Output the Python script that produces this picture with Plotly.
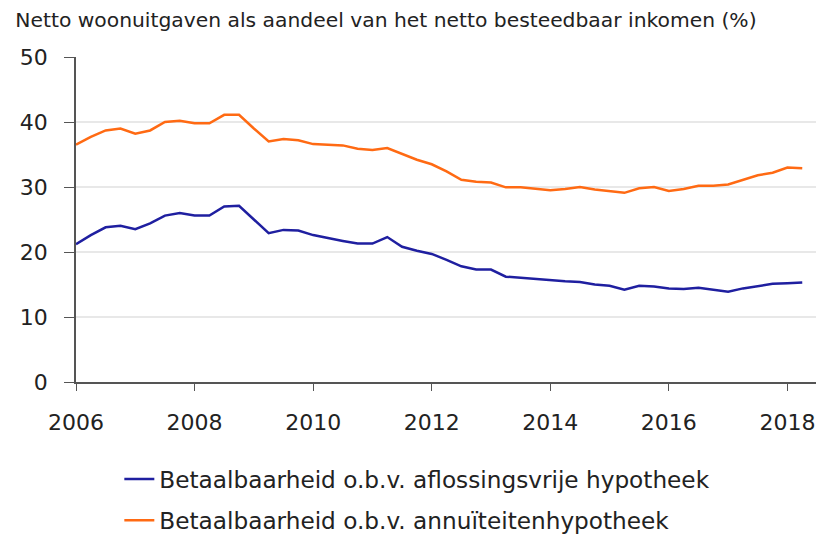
import plotly.graph_objects as go

quarters = [2006 + i / 4 for i in range(50)]

aflossingsvrij = [21.2, 22.6, 23.8, 24.05, 23.5, 24.4, 25.6, 26.0, 25.6, 25.6, 27.0, 27.1,
                  25.0, 22.9, 23.4, 23.3, 22.6, 22.1, 21.7, 21.3, 21.3, 22.3, 20.8, 20.2,
                  19.7, 18.8, 17.8, 17.3, 17.3, 16.2, 16.0, 15.8, 15.6, 15.5, 15.4, 15.0,
                  14.8, 14.2, 14.8, 14.7, 14.4, 14.3, 14.5, 14.2, 13.9, 14.4, 14.8, 15.1,
                  15.2, 15.3]

annuiteit = [36.5, 37.7, 38.7, 39.0, 38.2, 38.7, 40.0, 40.2, 39.8, 39.8, 41.1, 41.1,
             39.0, 37.0, 37.4, 37.2, 36.6, 36.5, 36.4, 35.9, 35.7, 36.0, 35.1, 34.2,
             33.5, 32.4, 31.1, 30.8, 30.7, 29.95, 29.95, 29.7, 29.5, 29.7, 30.0, 29.6,
             29.3, 29.1, 29.8, 30.0, 29.4, 29.7, 30.2, 30.2, 30.4, 31.1, 31.8, 32.2,
             33.0, 32.9]

series_names = ["Betaalbaarheid o.b.v. aflossingsvrije hypotheek",
                "Betaalbaarheid o.b.v. annuïteitenhypotheek"]
title_text = "Netto woonuitgaven als aandeel van het netto besteedbaar inkomen (%)"
x_ticks = [2006, 2008, 2010, 2012, 2014, 2016, 2018]
y_ticks = [0, 10, 20, 30, 40, 50]

fig = go.Figure()
fig.add_trace(go.Scatter(x=quarters, y=aflossingsvrij, mode="lines", name=series_names[0],
                         legendgroup="a", line=dict(color="#1F1FA0", width=2.5)))
fig.add_trace(go.Scatter(x=quarters, y=annuiteit, mode="lines", name=series_names[1],
                         legendgroup="b", line=dict(color="#FF6A13", width=2.5)))

fig.update_layout(
    width=816, height=528,
    paper_bgcolor="white", plot_bgcolor="white",
    margin=dict(l=68, r=1, t=49, b=154, autoexpand=False),
    font=dict(family="DejaVu Sans", color="#222222"),
    title=dict(text=title_text, x=0.009, xanchor="left", y=0.977, yanchor="middle",
               xref="container", yref="container",
               font=dict(size=20.3, family="DejaVu Sans", color="#222222")),
    showlegend=True,
    legend=dict(x=0.058, xanchor="left", y=-0.232, yanchor="top", font=dict(size=23.2),
                itemwidth=30, tracegroupgap=8, traceorder="grouped",
                bgcolor="rgba(0,0,0,0)"),
    xaxis=dict(range=[2006, 2018.6], tickvals=x_ticks, ticktext=[str(v) for v in x_ticks],
               showgrid=False, zeroline=False, showline=True, linecolor="#555555", linewidth=1.5,
               ticks="outside", ticklen=7, tickcolor="#555555", tickfont=dict(size=22),
               ticklabelstandoff=13, automargin=False),
    yaxis=dict(range=[0, 50], tickvals=y_ticks, showgrid=True, gridcolor="#E8E8E8", gridwidth=2,
               zeroline=False, showline=True, linecolor="#555555", linewidth=1.5,
               ticks="outside", ticklen=10, tickcolor="#555555", tickfont=dict(size=22),
               ticklabelstandoff=12, automargin=False),
)

fig.write_html("out.html")
